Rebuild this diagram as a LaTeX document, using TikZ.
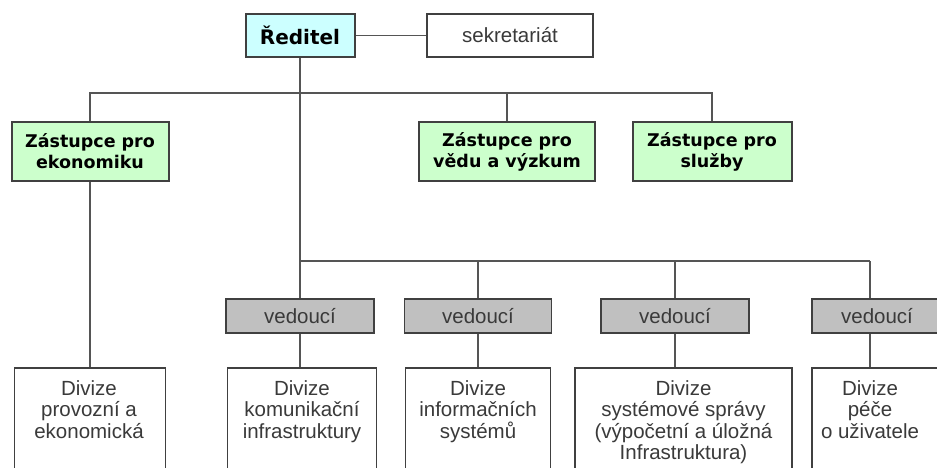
\documentclass[tikz,border=0pt]{standalone}
\usepackage{fontspec}
\setmainfont{Liberation Sans}
\newfontfamily\headfont{DejaVu Sans}
\usepackage{tikz}
\usetikzlibrary{calc}
\definecolor{bosscyan}{HTML}{CCFFFF}
\definecolor{deputygreen}{HTML}{CCFFCC}
\definecolor{headgray}{HTML}{C0C0C0}
\definecolor{boxgray}{HTML}{404040}
\definecolor{linegray}{HTML}{555555}
\definecolor{textgray}{HTML}{3A3A3A}
\newcommand{\tikzDivizeNode}[5]{
  \node[divbox,minimum width=#3] (#1) at (#2,433) {};
  \node[divtext] (#1t) at (#4,380) {#5};
}

\begin{document}
\begin{tikzpicture}[x=0.5pt,y=-0.5pt,
  conn/.style={draw=linegray,line width=0.8pt},
  boss/.style={draw=boxgray,line width=1pt,fill=bosscyan,inner sep=0pt,minimum height=21.5pt,
    font=\headfont\bfseries\fontsize{10}{12}\selectfont},
  plainbox/.style={draw=boxgray,line width=0.9pt,fill=white,inner sep=0pt,minimum height=21.5pt,
    text=textgray,font=\fontsize{10.25}{12}\selectfont},
  deputy/.style={draw=boxgray,line width=1pt,fill=deputygreen,inner sep=0pt,minimum height=29.5pt,
    align=center,font=\headfont\bfseries\fontsize{8.75}{10.5}\selectfont},
  head/.style={draw=boxgray,line width=0.9pt,fill=headgray,inner sep=0pt,minimum height=17pt,
    text=textgray,font=\fontsize{10.25}{12}\selectfont},
  divbox/.style={draw=boxgray,line width=0.8pt,fill=white,inner sep=0pt,minimum height=65pt},
  divtext/.style={anchor=north,inner sep=0pt,align=center,text=textgray,
    font=\fontsize{10.25}{10.75}\selectfont}]
  \fill[white] (0,0) rectangle (937,467);
  \useasboundingbox (0,0) rectangle (937,467);
  \clip (0,0) rectangle (937,467);

  \node [boss,minimum width=54.5pt] (red) at (300,35.5) {Ředitel};
  \node [plainbox,minimum width=83pt] (sek) at (510,35.5) {sekretariát};

  \node [deputy,minimum width=78.5pt] (zek) at (90,151.5) {Zástupce pro\\ekonomiku};
  \node [deputy,minimum width=88pt] (zved) at (507,151.5) {Zástupce pro\\vědu a výzkum};
  \node [deputy,minimum width=79.5pt] (zslu) at (712,151.5) {Zástupce pro\\služby};

  \node [head,minimum width=74pt] (ved1) at (300,316) {vedoucí};
  \node [head,minimum width=73.5pt] (ved2) at (478,316) {vedoucí};
  \node [head,minimum width=74pt] (ved3) at (675,316) {vedoucí};
  \node [head,minimum width=65pt] (ved4) at (877,316) {vedoucí};

  \tikzDivizeNode{dprov}{90}{75.5pt}{89}{Divize\\provozní a\\ekonomická}
  \tikzDivizeNode{dkom}{302}{74.5pt}{302}{Divize\\komunikační\\infrastruktury}
  \tikzDivizeNode{dinf}{478}{72.5pt}{478}{Divize\\informačních\\systémů}
  \tikzDivizeNode{dsys}{683.5}{108.5pt}{683.5}{Divize\\systémové správy\\(výpočetní a úložná\\Infrastruktura)}
  \tikzDivizeNode{dpec}{877}{65pt}{870}{Divize\\péče\\o uživatele}

  \coordinate (b1) at (300,93);
  \coordinate (b2) at (300,261);
  \coordinate (b4) at (870,261);

  \path [conn] (red) -- (sek);
  \path [conn] (red.south) -- (b2);
  \path [conn] (zek.north) -- (zek.north |- b1) -- (zslu.north |- b1) -- (zslu.north);
  \path [conn] (zved.north) -- (zved.north |- b1);
  \path [conn] (zek.south) -- (zek.south |- dprov.north);

  \path [conn] (b2) -- (b4);
  \path [conn] (ved1.north |- b2) -- (ved1.north);
  \path [conn] (ved2.north |- b2) -- (ved2.north);
  \path [conn] (ved3.north |- b2) -- (ved3.north);
  \path [conn] (b4) -- (b4 |- ved4.north);
  \path [conn] (ved1.south) -- (ved1.south |- dkom.north);
  \path [conn] (ved2.south) -- (ved2.south |- dinf.north);
  \path [conn] (ved3.south) -- (ved3.south |- dsys.north);
  \path [conn] (b4 |- ved4.south) -- (b4 |- dpec.north);
\end{tikzpicture}
\end{document}
